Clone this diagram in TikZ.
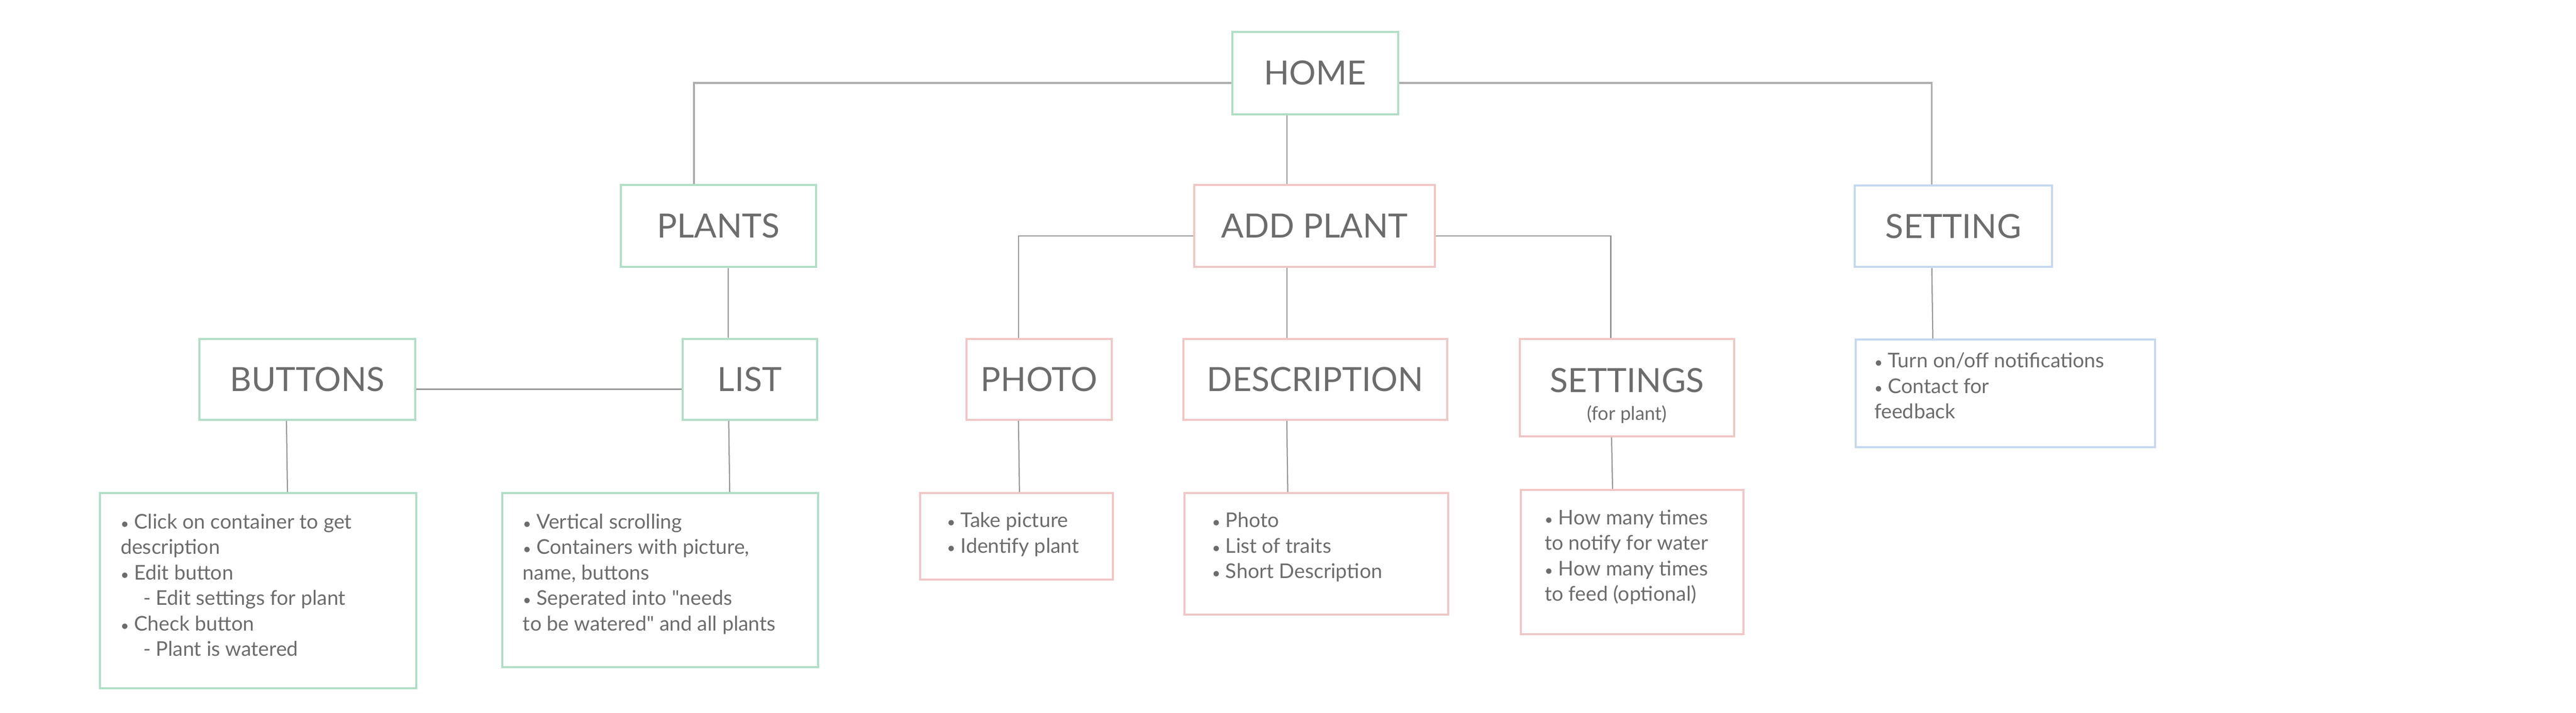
\documentclass[tikz,border=0pt]{standalone}
\usepackage{fontspec}
\setmainfont{Lato}[Ligatures=TeXOff]

\definecolor{boxgreen}{RGB}{176,222,198}
\definecolor{boxpink}{RGB}{240,198,198}
\definecolor{boxblue}{RGB}{198,216,240}
\definecolor{txtgray}{RGB}{108,108,108}
\definecolor{linegray}{RGB}{150,150,150}
\definecolor{homegray}{RGB}{172,172,172}

\newcommand{\bul}{{\fontsize{10}{10}\selectfont•}}

\begin{document}
\begin{tikzpicture}[
    title/.style={draw=#1, line width=1.4pt, text=txtgray,
      font=\fontsize{23}{28}\selectfont, inner sep=0pt},
    info/.style={draw=#1, line width=1.4pt, inner sep=0pt, anchor=north west},
    infotext/.style={text=txtgray, font=\fontsize{14}{17.6}\selectfont,
      align=left, anchor=north west, inner sep=0pt},
    link/.style={draw=linegray, line width=0.8pt},
    homelink/.style={draw=homegray, line width=1.3pt},
  ]
    \useasboundingbox (0,0) rectangle (62.5,-17.3);

    % top level
    \node[title=boxgreen, minimum width=4.02cm, minimum height=2cm] (home) at (31.91,-1.77) {HOME};
    \node[title=boxgreen, minimum width=4.74cm, minimum height=1.99cm] (plants) at (17.43,-5.485) {PLANTS};
    \node[title=boxpink, minimum width=5.83cm, minimum height=1.99cm] (addplant) at (31.895,-5.485) {ADD PLANT};
    \node[title=boxblue, minimum width=4.79cm, minimum height=1.98cm] (setting) at (47.395,-5.49) {SETTING};

    % second level
    \node[title=boxgreen, minimum width=5.23cm, minimum height=1.97cm] (buttons) at (7.455,-9.205) {BUTTONS};
    \node[title=boxgreen, minimum width=3.26cm, minimum height=1.97cm] (list) at (18.19,-9.205) {LIST};
    \node[title=boxpink, minimum width=3.52cm, minimum height=1.97cm] (photo) at (25.21,-9.205) {PHOTO};
    \node[title=boxpink, minimum width=6.40cm, minimum height=1.97cm] (description) at (31.91,-9.205) {DESCRIPTION};
    \node[title=boxpink, minimum width=5.19cm, minimum height=2.37cm, align=center] (settings) at (39.475,-9.405)
      {\rule{0pt}{28pt}SETTINGS\\[-9pt]{\fontsize{13}{15}\selectfont (for plant)}};

    % info boxes
    \node[info=boxgreen, minimum width=7.67cm, minimum height=4.74cm] (buttonsinfo) at (2.40,-11.94) {};
    \node[info=boxgreen, minimum width=7.66cm, minimum height=4.22cm] (listinfo) at (12.16,-11.94) {};
    \node[info=boxpink, minimum width=4.67cm, minimum height=2.10cm] (photoinfo) at (22.30,-11.94) {};
    \node[info=boxpink, minimum width=6.40cm, minimum height=2.95cm] (descinfo) at (28.71,-11.94) {};
    \node[info=boxpink, minimum width=5.40cm, minimum height=3.50cm] (settingsinfo) at (36.88,-11.86) {};
    \node[info=boxblue, minimum width=7.26cm, minimum height=2.61cm] (settinginfo) at (45.00,-8.21) {};

    \node[infotext] (buttonstext) at ([xshift=5.2mm,yshift=-5.2mm]buttonsinfo.north west)
      {\bul{} Click on container to get\\description\\\bul{} Edit button\\\hspace{5.5mm}- Edit settings for plant\\
       \bul{} Check button\\\hspace{5.5mm}- Plant is watered};
    \node[infotext] (listtext) at ([xshift=5.2mm,yshift=-5.2mm]listinfo.north west)
      {\bul{} Vertical scrolling\\\bul{} Containers with picture,\\name, buttons\\\bul{} Seperated into "needs\\to be watered" and all plants};
    \node[infotext] (phototext) at ([xshift=6.7mm,yshift=-4.9mm]photoinfo.north west)
      {\bul{} Take picture\\\bul{} Identify plant};
    \node[infotext] (desctext) at ([xshift=6.9mm,yshift=-4.9mm]descinfo.north west)
      {\bul{} Photo\\\bul{} List of traits\\\bul{} Short Description};
    \node[infotext] (settingstext) at ([xshift=5.9mm,yshift=-5.0mm]settingsinfo.north west)
      {\bul{} How many times\\to notify for water\\\bul{} How many times\\to feed (optional)};
    \node[infotext] (settingtext) at ([xshift=4.7mm,yshift=-3.4mm]settinginfo.north west)
      {\bul{} Turn on/off notifications\\\bul{} Contact for\\feedback};

    % connectors
    \draw[homelink] ([yshift=-2.4mm]home.west) -| ([xshift=-5.9mm]plants.north);
    \draw[homelink] ([yshift=-2.4mm]home.east) -| ([xshift=-5.25mm]setting.north);
    \draw[link] ([xshift=-6.9mm]home.south) -- ([xshift=-6.75mm]addplant.north);

    \draw[link] ([xshift=2.4mm]plants.south) -- ([xshift=-5.2mm]list.north);
    \draw[link] ([yshift=-2.4mm]buttons.east) -- ([yshift=-2.4mm]list.west);
    \draw[link] ([yshift=-2.4mm]addplant.west) -| ([xshift=-5mm]photo.north);
    \draw[link] ([yshift=-2.4mm]addplant.east) -| ([xshift=-3.95mm]settings.north);
    \draw[link] ([xshift=-6.75mm]addplant.south) -- ([xshift=-6.9mm]description.north);

    \draw[link] ([xshift=-5.05mm]buttons.south) -- ([xshift=7.15mm]buttonsinfo.north);
    \draw[link] ([xshift=-5.1mm]list.south) -- ([xshift=16.9mm]listinfo.north);
    \draw[link] ([xshift=-5mm]photo.south) -- ([xshift=0.75mm]photoinfo.north);
    \draw[link] ([xshift=-6.9mm]description.south) -- ([xshift=-6.9mm]descinfo.north);
    \draw[link] ([xshift=-3.75mm]settings.south) -- ([xshift=-4.8mm]settingsinfo.north);
    \draw[link] ([xshift=-5.25mm]setting.south) -- ([xshift=-17.6mm]settinginfo.north);
\end{tikzpicture}
\end{document}
